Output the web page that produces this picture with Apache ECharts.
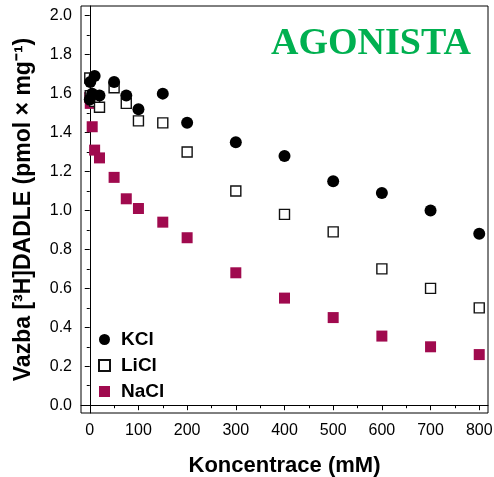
<!DOCTYPE html>
<html>
<head>
<meta charset="utf-8">
<script src="https://cdn.jsdelivr.net/npm/echarts@6/dist/echarts.min.js"></script>
<style>html,body{margin:0;padding:0;background:#fff}#c{width:494px;height:477px}</style>
</head>
<body>
<div id="c"></div>
<script>
// concentrations (mM)
const conc = [0, 1, 5, 10, 20, 50, 75, 100, 150, 200, 300, 400, 500, 600, 700, 800];
const kcl  = [1.57, 1.66, 1.60, 1.69, 1.59, 1.66, 1.59, 1.52, 1.60, 1.45, 1.35, 1.28, 1.15, 1.09, 1.00, 0.88];
const licl = [1.68, 1.59, 1.57, 1.56, 1.53, 1.63, 1.55, 1.46, 1.45, 1.30, 1.10, 0.98, 0.89, 0.70, 0.60, 0.50];
const nacl = [1.58, 1.55, 1.43, 1.31, 1.27, 1.17, 1.06, 1.01, 0.94, 0.86, 0.68, 0.55, 0.45, 0.355, 0.30, 0.26];
const xMajor = [0, 100, 200, 300, 400, 500, 600, 700, 800];
const xMinor = [50, 150, 250, 350, 450, 550, 650, 750];
const yMajor = [0, 0.2, 0.4, 0.6, 0.8, 1.0, 1.2, 1.4, 1.6, 1.8, 2.0];
const yMinor = [0.1, 0.3, 0.5, 0.7, 0.9, 1.1, 1.3, 1.5, 1.7, 1.9];

const pairs = v => conc.map((c, i) => [c, v[i]]);
const chart = echarts.init(document.getElementById('c'), null, {renderer: 'canvas'});
const font = '"Liberation Sans", Arial, sans-serif';
chart.setOption({
  animation: false,
  backgroundColor: '#fff',
  title: {
    text: 'AGONISTA', left: 271, top: 25, padding: 0,
    textStyle: {fontFamily: '"Liberation Serif", "DejaVu Serif", serif', fontWeight: 'bold', fontSize: 38, color: '#00b050'}
  },
  grid: {left: 81, right: 6, top: 6, bottom: 64, containLabel: false, outerBoundsMode: 'none',
    show: true, borderColor: '#000', borderWidth: 1, backgroundColor: 'transparent'},
  legend: {
    orient: 'vertical', left: 93, top: 325, itemWidth: 11, itemHeight: 11, itemGap: 7,
    data: ['KCl', 'LiCl', 'NaCl'],
    textStyle: {fontFamily: font, fontWeight: 'bold', fontSize: 19, color: '#000', padding: [0, 0, 0, 6]}
  },
  xAxis: [{
    type: 'value', min: -18, max: 818, position: 'bottom',
    name: 'Koncentrace (mM)', nameLocation: 'middle', nameGap: 42,
    nameTextStyle: {fontFamily: font, fontWeight: 'bold', fontSize: 22, color: '#000'},
    axisLine: {show: true, lineStyle: {color: '#000', width: 1}},
    axisTick: {show: true, inside: false, length: 5, customValues: xMajor, lineStyle: {color: '#000'}},
    axisLabel: {show: true, margin: 10, customValues: xMajor, fontFamily: font, fontSize: 16, color: '#000'},
    splitLine: {show: false}
  }, {
    type: 'value', min: -18, max: 818, position: 'bottom',
    axisLine: {show: false},
    axisTick: {show: true, inside: false, length: 3, customValues: xMinor, lineStyle: {color: '#000'}},
    axisLabel: {show: false},
    splitLine: {show: false}
  }],
  yAxis: [{
    type: 'value', min: -0.04, max: 2.05, position: 'left',
    name: 'Vazba [³H]DADLE (pmol × mg⁻¹)', nameLocation: 'middle', nameGap: 46,
    nameTextStyle: {fontFamily: font, fontWeight: 'bold', fontSize: 23, color: '#000'},
    axisLine: {show: true, lineStyle: {color: '#000', width: 1}},
    axisTick: {show: true, inside: false, length: 5, customValues: yMajor, lineStyle: {color: '#000'}},
    axisLabel: {show: true, margin: 9, customValues: yMajor, fontFamily: font, fontSize: 16, color: '#000',
      formatter: v => v.toFixed(1)},
    splitLine: {show: false}
  }, {
    type: 'value', min: -0.04, max: 2.05, position: 'left',
    axisLine: {show: false},
    axisTick: {show: true, inside: false, length: 3, customValues: yMinor, lineStyle: {color: '#000'}},
    axisLabel: {show: false},
    splitLine: {show: false}
  }],
  series: [{
    name: 'NaCl', type: 'scatter', symbol: 'rect', symbolSize: 11, z: 2,
    itemStyle: {color: '#a00a4e', opacity: 1},
    data: pairs(nacl)
  }, {
    name: 'LiCl', type: 'scatter', symbol: 'rect', symbolSize: 10, z: 3,
    itemStyle: {color: '#fff', borderColor: '#111', borderWidth: 1.4, opacity: 1},
    data: pairs(licl)
  }, {
    name: 'KCl', type: 'scatter', symbol: 'circle', symbolSize: 12, z: 4,
    itemStyle: {color: '#000', opacity: 1},
    data: pairs(kcl)
  }]
});
</script>
</body>
</html>
